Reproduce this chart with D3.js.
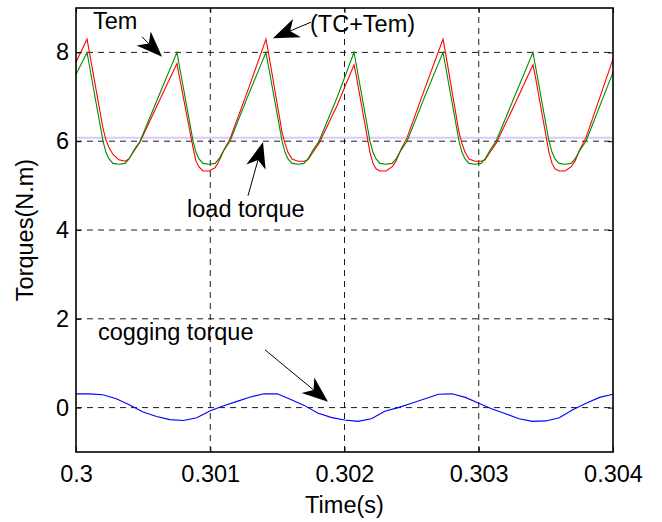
<!DOCTYPE html>
<html>
<head>
    <meta charset="utf-8">
    <script src="https://d3js.org/d3.v7.min.js"></script>
    <style>
        body { margin: 0; background: #fff; }
        text { font-family: "Liberation Sans", Arial, sans-serif; }
    </style>
</head>
<body>
    <div id="chart"></div>

    <script>
        // axis ticks
        const timeTicks = [0.3, 0.301, 0.302, 0.303, 0.304];
        const timeTickLabels = ["0.3", "0.301", "0.302", "0.303", "0.304"];
        const torqueTicks = [0, 2, 4, 6, 8];
        const torqueTickLabels = ["0", "2", "4", "6", "8"];

        // Tem and TC+Tem, sampled at the same instants
        const temTime = [
            0.300000, 0.300082, 0.300097, 0.300201, 0.300223, 0.300246, 0.300276, 0.300320, 0.300365, 0.300395, 0.300432, 0.300477, 0.300611,
            0.300752, 0.300767, 0.300872, 0.300894, 0.300916, 0.300946, 0.300991, 0.301035, 0.301065, 0.301102, 0.301147, 0.301281,
            0.301415, 0.301430, 0.301535, 0.301557, 0.301579, 0.301609, 0.301654, 0.301698, 0.301728, 0.301765, 0.301810, 0.301944,
            0.302071, 0.302086, 0.302190, 0.302212, 0.302235, 0.302264, 0.302309, 0.302354, 0.302384, 0.302421, 0.302466, 0.302600,
            0.302734, 0.302749, 0.302853, 0.302875, 0.302898, 0.302927, 0.302972, 0.303017, 0.303047, 0.303084, 0.303129, 0.303263,
            0.303404, 0.303419, 0.303523, 0.303546, 0.303568, 0.303598, 0.303643, 0.303687, 0.303717, 0.303754, 0.303799, 0.304000
        ];
        const temValues = [
            7.5, 8.0, 7.75, 6.0, 5.75, 5.6, 5.5, 5.48, 5.5, 5.6, 5.8, 6.0, 6.98,
            8.0, 7.75, 6.0, 5.75, 5.6, 5.5, 5.48, 5.5, 5.6, 5.8, 6.0, 7.02,
            8.0, 7.75, 6.0, 5.75, 5.6, 5.5, 5.48, 5.5, 5.6, 5.8, 6.0, 6.98,
            8.0, 7.75, 6.0, 5.75, 5.6, 5.5, 5.48, 5.5, 5.6, 5.8, 6.0, 7.02,
            8.0, 7.75, 6.0, 5.75, 5.6, 5.5, 5.48, 5.5, 5.6, 5.8, 6.0, 6.98,
            8.0, 7.75, 6.0, 5.75, 5.6, 5.5, 5.48, 5.5, 5.6, 5.8, 6.0, 7.55
        ];
        const totalValues = [
            7.78, 8.3, 8.05, 6.29, 6.03, 5.85, 5.7, 5.58, 5.55, 5.6, 5.78, 5.98, 6.85,
            7.75, 7.5, 5.85, 5.55, 5.42, 5.33, 5.33, 5.4, 5.55, 5.8, 6.05, 7.15,
            8.3, 8.05, 6.2, 5.95, 5.75, 5.6, 5.55, 5.55, 5.58, 5.75, 5.95, 6.8,
            7.72, 7.5, 5.75, 5.5, 5.38, 5.33, 5.33, 5.42, 5.55, 5.82, 6.08, 7.2,
            8.3, 8.05, 6.2, 5.95, 5.75, 5.6, 5.55, 5.55, 5.58, 5.75, 5.95, 6.8,
            7.72, 7.5, 5.75, 5.5, 5.38, 5.33, 5.33, 5.42, 5.55, 5.82, 6.08, 7.85
        ];

        // cogging torque
        const cogTime = [
            0.3000, 0.3001, 0.3002, 0.3003, 0.3004, 0.3005, 0.3006, 0.3007, 0.3008, 0.3009,
            0.3010, 0.3011, 0.3012, 0.3013, 0.3014, 0.3015, 0.3016, 0.3017, 0.3018, 0.3019,
            0.3020, 0.3021, 0.3022, 0.3023, 0.3024, 0.3025, 0.3026, 0.3027, 0.3028, 0.3029,
            0.3030, 0.3031, 0.3032, 0.3033, 0.3034, 0.3035, 0.3036, 0.3037, 0.3038, 0.3039, 0.3040
        ];
        const cogValues = [
            0.31, 0.31, 0.29, 0.2, 0.06, -0.1, -0.2, -0.27, -0.29, -0.23,
            -0.07, 0.04, 0.14, 0.24, 0.31, 0.31, 0.18, 0.05, -0.12, -0.22,
            -0.28, -0.31, -0.25, -0.08, 0.0, 0.1, 0.2, 0.3, 0.31, 0.23,
            0.1, -0.03, -0.14, -0.25, -0.31, -0.3, -0.23, -0.05, 0.1, 0.23, 0.3
        ];

        // load torque
        const loadTorque = 6.08;

        const width = 662;
        const height = 522;
        const margin = {top: 8, right: 49, bottom: 70, left: 76};
        const fontSize = "23.5px";

        const svg = d3.select("#chart")
            .append("svg")
            .attr("width", width)
            .attr("height", height);

        svg.append("rect").attr("width", width).attr("height", height).attr("fill", "#fff");

        const x = d3.scaleLinear()
            .domain([0.3, 0.304])
            .range([margin.left, width - margin.right]);

        const y = d3.scaleLinear()
            .domain([-1, 9])
            .range([height - margin.bottom, margin.top]);

        // grid
        const grid = svg.append("g")
            .attr("stroke", "#000")
            .attr("stroke-width", 0.9)
            .attr("stroke-dasharray", "6,5");
        grid.selectAll(".gx")
            .data(timeTicks.slice(1, -1))
            .join("line")
            .attr("x1", d => x(d)).attr("x2", d => x(d))
            .attr("y1", y.range()[0]).attr("y2", y.range()[1]);
        grid.selectAll(".gy")
            .data(torqueTicks)
            .join("line")
            .attr("x1", x.range()[0]).attr("x2", x.range()[1])
            .attr("y1", d => y(d)).attr("y2", d => y(d));

        // curves
        const tem = temTime.map((t, i) => ({t: t, v: temValues[i]}));
        const total = temTime.map((t, i) => ({t: t, v: totalValues[i]}));
        const cog = cogTime.map((t, i) => ({t: t, v: cogValues[i]}));

        const line = d3.line().x(d => x(d.t)).y(d => y(d.v));

        svg.append("line")
            .attr("x1", x(0.3)).attr("x2", x(0.304))
            .attr("y1", y(loadTorque)).attr("y2", y(loadTorque))
            .attr("stroke", "#dcc8ff")
            .attr("stroke-width", 2);

        svg.append("path").datum(total)
            .attr("d", line).attr("fill", "none")
            .attr("stroke", "#ff0000").attr("stroke-width", 1.1);

        svg.append("path").datum(tem)
            .attr("d", line).attr("fill", "none")
            .attr("stroke", "#008a00").attr("stroke-width", 1.1);

        svg.append("path").datum(cog)
            .attr("d", line).attr("fill", "none")
            .attr("stroke", "#0000ff").attr("stroke-width", 1.1);

        // axes, ticks pointing inward
        const xAxis = svg.append("g")
            .attr("transform", `translate(0, ${height - margin.bottom})`)
            .call(d3.axisBottom(x).tickValues(timeTicks)
                .tickFormat((d, i) => timeTickLabels[i])
                .tickSizeInner(-5).tickSizeOuter(0).tickPadding(13));

        const yAxis = svg.append("g")
            .attr("transform", `translate(${margin.left}, 0)`)
            .call(d3.axisLeft(y).tickValues(torqueTicks)
                .tickFormat((d, i) => torqueTickLabels[i])
                .tickSizeInner(-5).tickSizeOuter(0).tickPadding(7));

        svg.append("g")
            .attr("transform", `translate(0, ${margin.top})`)
            .call(d3.axisTop(x).tickValues(timeTicks).tickFormat("")
                .tickSizeInner(-5).tickSizeOuter(0));

        svg.append("g")
            .attr("transform", `translate(${width - margin.right}, 0)`)
            .call(d3.axisRight(y).tickValues(torqueTicks).tickFormat("")
                .tickSizeInner(-5).tickSizeOuter(0));

        svg.selectAll(".domain").remove();
        svg.selectAll(".tick line").attr("stroke", "#000");
        svg.selectAll(".tick text")
            .attr("fill", "#000")
            .style("font-size", fontSize)
            .style("font-family", "'Liberation Sans', Arial, sans-serif");

        svg.append("rect")
            .attr("x", x.range()[0]).attr("y", y.range()[1])
            .attr("width", x.range()[1] - x.range()[0])
            .attr("height", y.range()[0] - y.range()[1])
            .attr("fill", "none")
            .attr("stroke", "#000")
            .attr("stroke-width", 1.6);

        // axis titles
        svg.append("text")
            .attr("x", (x.range()[0] + x.range()[1]) / 2)
            .attr("y", 513)
            .attr("text-anchor", "middle")
            .style("font-size", fontSize)
            .text("Time(s)");

        svg.append("text")
            .attr("transform", `translate(33, ${(y.range()[0] + y.range()[1]) / 2}) rotate(-90)`)
            .attr("text-anchor", "middle")
            .style("font-size", fontSize)
            .text("Torques(N.m)");

        // annotations (data coordinates)
        const notes = [
            {text: "Tem", tx: 0.300127, ty: 8.53, from: [0.300492, 8.35], to: [0.300641, 7.90]},
            {text: "(TC+Tem)", tx: 0.301743, ty: 8.46, from: [0.301750, 8.68], to: [0.301467, 8.32]},
            {text: "load torque", tx: 0.300827, ty: 4.29, from: [0.301281, 4.77], to: [0.301393, 5.98]},
            {text: "cogging torque", tx: 0.300164, ty: 1.52, from: [0.301408, 1.30], to: [0.301877, 0.13]}
        ];

        const headLen = 26, headHalf = 10, headBack = 0.72;

        notes.forEach(n => {
            svg.append("text")
                .attr("x", x(n.tx)).attr("y", y(n.ty))
                .style("font-size", fontSize)
                .text(n.text);

            const x0 = x(n.from[0]), y0 = y(n.from[1]);
            const x1 = x(n.to[0]), y1 = y(n.to[1]);
            const len = Math.hypot(x1 - x0, y1 - y0);
            const ux = (x1 - x0) / len, uy = (y1 - y0) / len;
            const px = -uy, py = ux;

            svg.append("line")
                .attr("x1", x0).attr("y1", y0)
                .attr("x2", x1 - ux * headLen * headBack)
                .attr("y2", y1 - uy * headLen * headBack)
                .attr("stroke", "#000").attr("stroke-width", 1);

            const pts = [
                [x1, y1],
                [x1 - ux * headLen + px * headHalf, y1 - uy * headLen + py * headHalf],
                [x1 - ux * headLen * headBack, y1 - uy * headLen * headBack],
                [x1 - ux * headLen - px * headHalf, y1 - uy * headLen - py * headHalf]
            ];
            svg.append("path")
                .attr("d", "M" + pts.map(p => p.join(",")).join("L") + "Z")
                .attr("fill", "#000");
        });
    </script>
</body>
</html>
